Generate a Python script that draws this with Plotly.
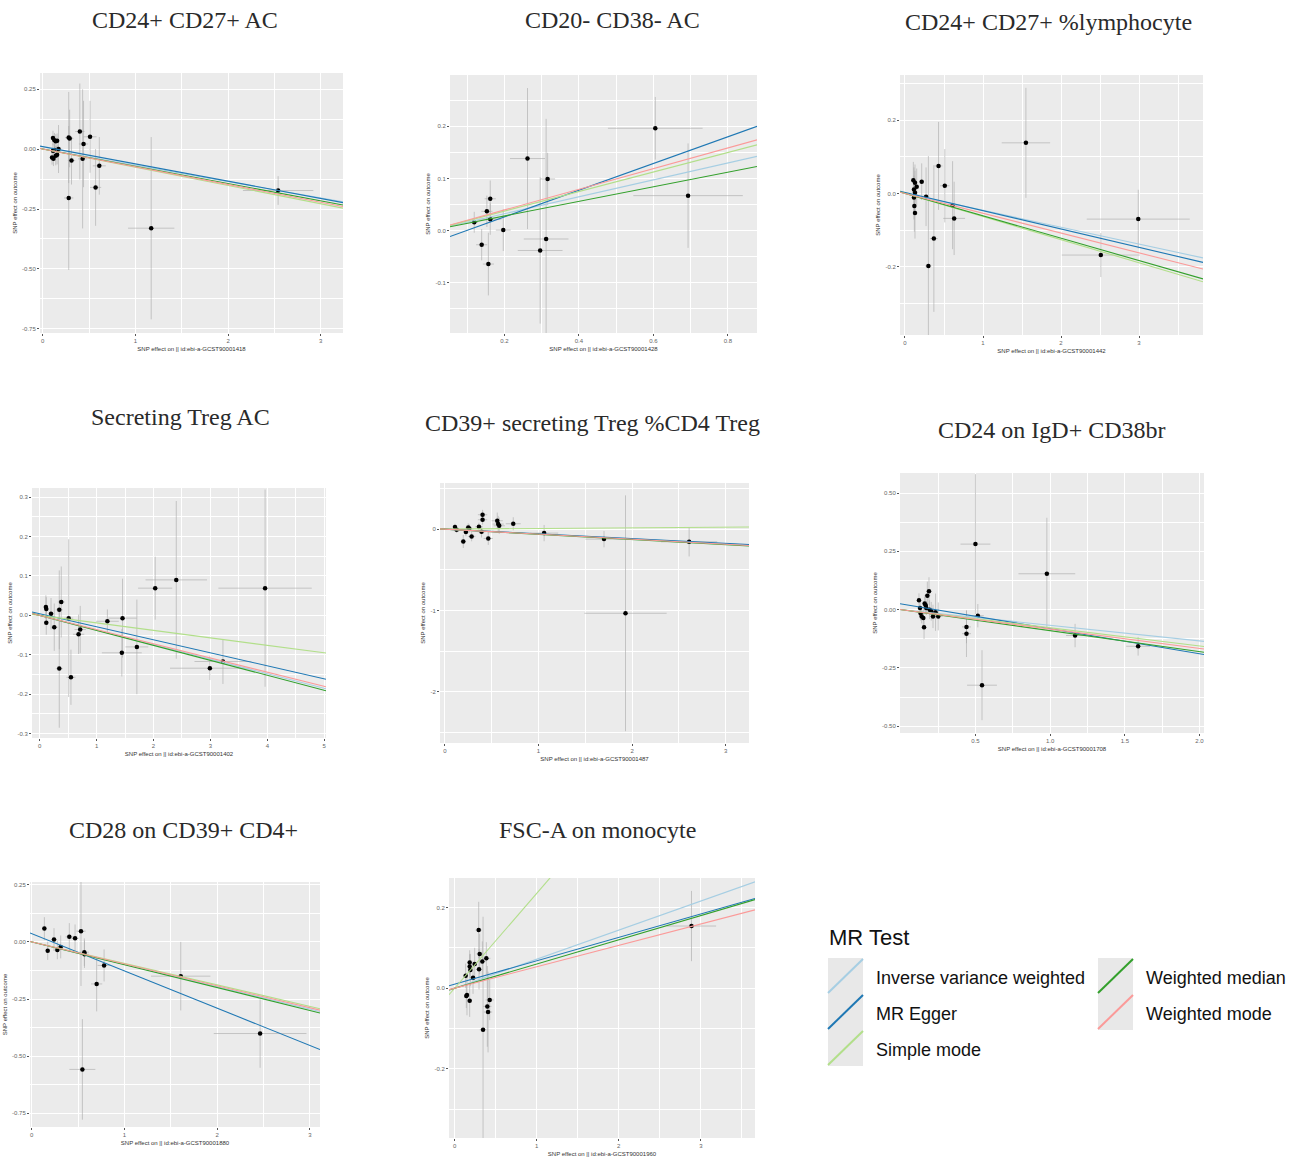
import plotly.graph_objects as go

# ---------------- data ----------------
methods = ["Inverse variance weighted", "MR Egger", "Simple mode", "Weighted median", "Weighted mode"]
method_colors = ["#a6cee3", "#1f78b4", "#b2df8a", "#33a02c", "#fb9a99"]

titles = ["CD24+ CD27+ AC", "CD20- CD38- AC", "CD24+ CD27+ %lymphocyte",
          "Secreting Treg AC", "CD39+ secreting Treg %CD4 Treg", "CD24 on IgD+ CD38br",
          "CD28 on CD39+ CD4+", "FSC-A on monocyte"]
exposure_ids = ["GCST90001418", "GCST90001428", "GCST90001442", "GCST90001402",
                "GCST90001487", "GCST90001708", "GCST90001880", "GCST90001960"]

# Panel 1
p1_bx = [0.11, 0.126, 0.14, 0.155, 0.11, 0.125, 0.10, 0.115, 0.14, 0.155, 0.17, 0.28, 0.29, 0.31, 0.28, 0.40, 0.44, 0.43, 0.51, 0.57, 0.61, 1.17, 2.54]
p1_by = [0.046, 0.037, 0.032, 0.035, -0.007, -0.004, -0.035, -0.041, -0.028, -0.024, 0.0, 0.048, 0.044, -0.048, -0.204, 0.073, 0.021, -0.041, 0.051, -0.16, -0.07, -0.33, -0.173]
p1_sx = [0.02, 0.02, 0.02, 0.02, 0.02, 0.02, 0.02, 0.02, 0.02, 0.02, 0.03, 0.04, 0.04, 0.04, 0.05, 0.05, 0.05, 0.05, 0.07, 0.06, 0.07, 0.25, 0.38]
p1_sy = [0.03, 0.03, 0.03, 0.03, 0.03, 0.03, 0.03, 0.03, 0.04, 0.04, 0.1, 0.19, 0.12, 0.1, 0.3, 0.2, 0.18, 0.29, 0.15, 0.16, 0.12, 0.38, 0.06]
p1_slopes = [-0.068, -0.072, -0.076, -0.072, -0.074]
p1_egger_int = 0.01

# Panel 2
p2_bx = [0.119, 0.139, 0.153, 0.157, 0.162, 0.162, 0.197, 0.262, 0.296, 0.312, 0.316, 0.605, 0.693]
p2_by = [0.016, -0.027, 0.037, -0.064, 0.061, 0.022, 0.001, 0.138, -0.038, -0.016, 0.099, 0.196, 0.067]
p2_sx = [0.01, 0.015, 0.015, 0.015, 0.015, 0.03, 0.02, 0.047, 0.06, 0.06, 0.02, 0.127, 0.147]
p2_sy = [0.02, 0.03, 0.03, 0.06, 0.035, 0.03, 0.04, 0.135, 0.14, 0.23, 0.05, 0.06, 0.1]
p2_slopes = [0.162, 0.256, 0.187, 0.14, 0.198]
p2_egger_int = -0.025

# Panel 3
p3_bx = [0.107, 0.128, 0.15, 0.115, 0.128, 0.115, 0.12, 0.128, 0.214, 0.27, 0.30, 0.37, 0.43, 0.51, 0.61, 0.63, 1.55, 2.51, 2.99]
p3_by = [0.036, 0.029, 0.018, 0.011, 0.002, -0.011, -0.034, -0.053, 0.032, -0.009, -0.198, -0.123, 0.075, 0.021, -0.032, -0.068, 0.138, -0.168, -0.07]
p3_sx = [0.02, 0.02, 0.02, 0.02, 0.02, 0.02, 0.02, 0.02, 0.03, 0.04, 0.04, 0.05, 0.05, 0.06, 0.06, 0.14, 0.31, 0.5, 0.66]
p3_sy = [0.05, 0.05, 0.05, 0.06, 0.06, 0.06, 0.07, 0.07, 0.05, 0.08, 0.3, 0.2, 0.12, 0.1, 0.12, 0.1, 0.15, 0.06, 0.08]
p3_slopes = [-0.046, -0.05, -0.063, -0.061, -0.054]
p3_egger_int = 0.003

# Panel 4
p4_bx = [0.11, 0.117, 0.117, 0.2, 0.257, 0.345, 0.38, 0.345, 0.51, 0.55, 0.684, 0.713, 1.19, 1.456, 1.444, 1.708, 2.03, 2.4, 2.99, 3.22, 3.96]
p4_by = [0.021, 0.016, -0.019, 0.004, -0.03, 0.014, 0.034, -0.135, -0.007, -0.157, -0.048, -0.036, -0.015, -0.007, -0.095, -0.08, 0.069, 0.09, -0.134, -0.117, 0.069]
p4_sx = [0.03, 0.03, 0.03, 0.05, 0.06, 0.06, 0.06, 0.06, 0.08, 0.08, 0.1, 0.1, 0.2, 0.25, 0.35, 0.2, 0.3, 0.54, 0.7, 0.5, 0.82]
p4_sy = [0.03, 0.03, 0.03, 0.04, 0.06, 0.1, 0.09, 0.15, 0.2, 0.07, 0.05, 0.06, 0.03, 0.1, 0.06, 0.12, 0.08, 0.2, 0.03, 0.057, 0.25]
p4_slopes = [-0.037, -0.033, -0.019, -0.038, -0.036]
p4_egger_int = 0.004

# Panel 5
p5_bx = [0.107, 0.125, 0.196, 0.224, 0.249, 0.26, 0.285, 0.363, 0.391, 0.402, 0.402, 0.463, 0.559, 0.569, 0.58, 0.73, 1.06, 1.70, 1.93, 2.61]
p5_by = [0.025, -0.008, -0.152, -0.037, 0.02, 0.008, -0.09, 0.029, -0.033, 0.177, 0.115, -0.115, 0.103, 0.062, 0.041, 0.066, -0.049, -0.123, -1.035, -0.156]
p5_sx = [0.02, 0.02, 0.03, 0.03, 0.03, 0.03, 0.04, 0.04, 0.04, 0.05, 0.05, 0.05, 0.06, 0.06, 0.06, 0.08, 0.15, 0.2, 0.44, 0.3]
p5_sy = [0.04, 0.04, 0.08, 0.05, 0.05, 0.05, 0.06, 0.05, 0.07, 0.06, 0.06, 0.08, 0.1, 0.1, 0.1, 0.08, 0.1, 0.1, 1.45, 0.18]
p5_slopes = [-0.06, -0.058, 0.008, -0.064, -0.062]
p5_egger_int = 0.0

# Panel 6
p6_bx = [0.122, 0.129, 0.133, 0.14, 0.151, 0.156, 0.16, 0.167, 0.171, 0.178, 0.189, 0.193, 0.204, 0.216, 0.233, 0.251, 0.44, 0.44, 0.5, 0.516, 0.544, 0.978, 1.167, 1.589]
p6_by = [0.04, 0.007, -0.017, -0.029, -0.036, -0.076, 0.026, 0.019, 0.007, 0.06, 0.079, 0.0, -0.007, -0.029, -0.011, -0.029, -0.074, -0.103, 0.281, -0.026, -0.324, 0.154, -0.111, -0.157]
p6_sx = [0.01, 0.01, 0.01, 0.01, 0.01, 0.01, 0.01, 0.01, 0.01, 0.02, 0.02, 0.02, 0.02, 0.02, 0.02, 0.03, 0.03, 0.03, 0.1, 0.04, 0.1, 0.19, 0.06, 0.08]
p6_sy = [0.03, 0.03, 0.03, 0.03, 0.05, 0.05, 0.03, 0.03, 0.03, 0.06, 0.06, 0.04, 0.04, 0.05, 0.08, 0.06, 0.07, 0.1, 0.3, 0.05, 0.15, 0.24, 0.05, 0.04]
p6_slopes = [-0.067, -0.107, -0.078, -0.09, -0.083]
p6_egger_int = 0.025

# Panel 7
p7_bx = [0.137, 0.173, 0.241, 0.277, 0.313, 0.406, 0.468, 0.532, 0.547, 0.568, 0.57, 0.701, 0.781, 1.608, 2.464]
p7_by = [0.058, -0.039, 0.01, -0.036, -0.022, 0.022, 0.016, 0.047, -0.558, -0.045, -0.054, -0.184, -0.103, -0.15, -0.401]
p7_sx = [0.02, 0.02, 0.03, 0.03, 0.03, 0.04, 0.04, 0.05, 0.14, 0.05, 0.05, 0.06, 0.07, 0.32, 0.5]
p7_sy = [0.05, 0.04, 0.05, 0.04, 0.05, 0.06, 0.06, 0.24, 0.22, 0.06, 0.06, 0.12, 0.07, 0.15, 0.15]
p7_slopes = [-0.098, -0.163, -0.094, -0.1, -0.096]
p7_egger_int = 0.036

# Panel 8
p8_bx = [0.134, 0.142, 0.15, 0.183, 0.183, 0.183, 0.191, 0.224, 0.244, 0.293, 0.297, 0.305, 0.337, 0.346, 0.386, 0.398, 0.407, 0.427, 2.886]
p8_by = [0.031, -0.019, -0.017, -0.031, 0.064, 0.054, 0.045, 0.026, 0.06, 0.144, 0.047, 0.085, 0.066, -0.103, 0.074, -0.045, -0.059, -0.029, 0.154]
p8_sx = [0.02, 0.02, 0.02, 0.02, 0.02, 0.02, 0.03, 0.03, 0.03, 0.04, 0.04, 0.04, 0.04, 0.04, 0.05, 0.05, 0.05, 0.05, 0.3]
p8_sy = [0.03, 0.03, 0.05, 0.04, 0.03, 0.03, 0.04, 0.04, 0.04, 0.07, 0.05, 0.05, 0.05, 0.28, 0.04, 0.1, 0.1, 0.05, 0.087]
p8_slopes = [0.072, 0.058, 0.235, 0.06, 0.053]
p8_egger_int = 0.01

# axis ticks
p1_xticks = [0, 1, 2, 3]; p1_yticks = [-0.75, -0.5, -0.25, 0.0, 0.25]
p2_xticks = [0.2, 0.4, 0.6, 0.8]; p2_yticks = [-0.1, 0.0, 0.1, 0.2]
p3_xticks = [0, 1, 2, 3]; p3_yticks = [-0.2, 0.0, 0.2]
p4_xticks = [0, 1, 2, 3, 4, 5]; p4_yticks = [-0.3, -0.2, -0.1, 0.0, 0.1, 0.2, 0.3]
p5_xticks = [0, 1, 2, 3]; p5_yticks = [-2, -1, 0]
p6_xticks = [0.5, 1.0, 1.5, 2.0]; p6_yticks = [-0.5, -0.25, 0.0, 0.25, 0.5]
p7_xticks = [0, 1, 2, 3]; p7_yticks = [-0.75, -0.5, -0.25, 0.0, 0.25]
p8_xticks = [0, 1, 2, 3]; p8_yticks = [-0.2, 0.0, 0.2]

# ---------------- layout geometry (pixels) ----------------
W, H = 1299, 1157
panel_px = [  # x0, x1, y0, y1 (plot area)
    (40, 343, 73, 333), (450, 757, 75, 333), (900, 1203, 75, 335),
    (32, 326, 488, 738), (440, 749, 483, 743), (900, 1204, 473, 733),
    (30, 320, 882, 1127), (449, 755, 878, 1138)]
xranges = [(-0.03, 3.24), (0.054, 0.878), (-0.064, 3.82), (-0.134, 5.03),
           (-0.053, 3.25), (-0.005, 2.03), (-0.018, 3.11), (-0.069, 3.66)]
yranges = [(-0.767, 0.317), (-0.196, 0.298), (-0.386, 0.323), (-0.311, 0.323),
           (-2.63, 0.567), (-0.529, 0.586), (-0.81, 0.262), (-0.371, 0.273)]
title_pos = [(185, 20), (612, 20), (1048, 22), (180, 417), (592, 423), (1052, 430), (183, 830), (597, 830)]
yfmt = ["%.2f", "%.1f", "%.1f", "%.1f", "%g", "%.2f", "%.2f", "%.1f"]
xfmt = ["%g", "%.1f", "%g", "%g", "%g", "%.1f", "%g", "%g"]

panels = [
    (p1_bx, p1_by, p1_sx, p1_sy, p1_slopes, p1_egger_int, p1_xticks, p1_yticks),
    (p2_bx, p2_by, p2_sx, p2_sy, p2_slopes, p2_egger_int, p2_xticks, p2_yticks),
    (p3_bx, p3_by, p3_sx, p3_sy, p3_slopes, p3_egger_int, p3_xticks, p3_yticks),
    (p4_bx, p4_by, p4_sx, p4_sy, p4_slopes, p4_egger_int, p4_xticks, p4_yticks),
    (p5_bx, p5_by, p5_sx, p5_sy, p5_slopes, p5_egger_int, p5_xticks, p5_yticks),
    (p6_bx, p6_by, p6_sx, p6_sy, p6_slopes, p6_egger_int, p6_xticks, p6_yticks),
    (p7_bx, p7_by, p7_sx, p7_sy, p7_slopes, p7_egger_int, p7_xticks, p7_yticks),
    (p8_bx, p8_by, p8_sx, p8_sy, p8_slopes, p8_egger_int, p8_xticks, p8_yticks),
]


def px(x):
    return x / W


def py(y):
    return 1 - y / H


def minor_vals(ticks, rng):
    step = ticks[1] - ticks[0]
    vals = []
    t = ticks[0] - step / 2
    while t > rng[0]:
        vals.append(t)
        t -= step
    for a in ticks:
        vals.append(a + step / 2)
    return [v for v in vals if rng[0] <= v <= rng[1]]


fig = go.Figure()
annotations = []
shapes = []
layout_axes = {}

for i, (bx, by, sx, sy, slopes, eint, xt, yt) in enumerate(panels):
    n = i + 1
    xa = "x" if n == 1 else f"x{n}"
    ya = "y" if n == 1 else f"y{n}"
    xkey = "xaxis" if n == 1 else f"xaxis{n}"
    ykey = "yaxis" if n == 1 else f"yaxis{n}"
    x0, x1, y0, y1 = panel_px[i]
    xr, yr = xranges[i], yranges[i]

    # points with error bars
    fig.add_trace(go.Scatter(
        x=bx, y=by, mode="markers", xaxis=xa, yaxis=ya, showlegend=False,
        marker=dict(color="black", size=4.5),
        error_x=dict(type="data", array=sx, color="#a8a8a8", thickness=0.6, width=0),
        error_y=dict(type="data", array=sy, color="#a8a8a8", thickness=0.6, width=0),
        hoverinfo="skip"))
    # MR method lines
    for m, (name, col, b) in enumerate(zip(methods, method_colors, slopes)):
        a = eint if name == "MR Egger" else 0.0
        lx = [xr[0], xr[1]]
        ly = [a + b * v for v in lx]
        fig.add_trace(go.Scatter(
            x=lx, y=ly, mode="lines", xaxis=xa, yaxis=ya, showlegend=False,
            line=dict(color=col, width=1.1), name=name, hoverinfo="skip"))

    layout_axes[xkey] = dict(
        domain=[px(x0), px(x1)], anchor=ya, range=list(xr),
        tickmode="array", tickvals=xt, ticktext=[xfmt[i] % v for v in xt],
        showgrid=True, gridcolor="white", gridwidth=1.1, zeroline=False,
        minor=dict(tickvals=minor_vals(xt, xr), showgrid=True, gridcolor="white", gridwidth=0.5),
        ticks="outside", ticklen=2, tickwidth=0.6, tickcolor="#555",
        tickfont=dict(size=6, color="#666", family="Liberation Sans"),
        showline=False,
        title=dict(text=f"SNP effect on || id:ebi-a-{exposure_ids[i]}",
                   font=dict(size=6, color="#333", family="Liberation Sans"), standoff=3))
    layout_axes[ykey] = dict(
        domain=[py(y1), py(y0)], anchor=xa, range=list(yr),
        tickmode="array", tickvals=yt, ticktext=[yfmt[i] % v for v in yt],
        showgrid=True, gridcolor="white", gridwidth=1.1, zeroline=False,
        minor=dict(tickvals=minor_vals(yt, yr), showgrid=True, gridcolor="white", gridwidth=0.5),
        ticks="outside", ticklen=2, tickwidth=0.6, tickcolor="#555",
        tickfont=dict(size=6, color="#666", family="Liberation Sans"),
        showline=False,
        title=dict(text="SNP effect on outcome",
                   font=dict(size=6, color="#333", family="Liberation Sans"), standoff=4))
    # panel background
    shapes.append(dict(type="rect", xref="paper", yref="paper", layer="below",
                       x0=px(x0), x1=px(x1), y0=py(y1), y1=py(y0),
                       fillcolor="#ebebeb", line=dict(width=0)))
    tx, ty = title_pos[i]
    annotations.append(dict(text=titles[i], x=px(tx), y=py(ty), xref="paper", yref="paper",
                            showarrow=False, xanchor="center", yanchor="middle",
                            font=dict(size=24, color="#2a2a2a", family="Liberation Serif")))

# ---------------- legend (drawn manually, ggplot style) ----------------
annotations.append(dict(text="MR Test", x=px(827), y=py(937), xref="paper", yref="paper",
                        showarrow=False, xanchor="left", yanchor="middle",
                        font=dict(size=22, color="#111", family="Liberation Sans")))
key_slots = [(828, 958), (828, 994), (828, 1030), (1098, 958), (1098, 994)]
for (kx, ky), name, col in zip(key_slots, methods, method_colors):
    shapes.append(dict(type="rect", xref="paper", yref="paper",
                       x0=px(kx), x1=px(kx + 35), y0=py(ky + 36), y1=py(ky),
                       fillcolor="#e8e8e8", line=dict(width=0)))
    shapes.append(dict(type="line", xref="paper", yref="paper",
                       x0=px(kx), y0=py(ky + 35), x1=px(kx + 35), y1=py(ky + 1),
                       line=dict(color=col, width=2)))
    annotations.append(dict(text=name, x=px(kx + 46), y=py(ky + 20), xref="paper", yref="paper",
                            showarrow=False, xanchor="left", yanchor="middle",
                            font=dict(size=18, color="#111", family="Liberation Sans")))

fig.update_layout(
    width=W, height=H, margin=dict(l=0, r=0, t=0, b=0),
    paper_bgcolor="white", plot_bgcolor="rgba(0,0,0,0)",
    showlegend=False, annotations=annotations, shapes=shapes,
    **layout_axes)

fig.write_html("out.html", config={"displayModeBar": False},
               post_script="document.body.style.margin='0';")
